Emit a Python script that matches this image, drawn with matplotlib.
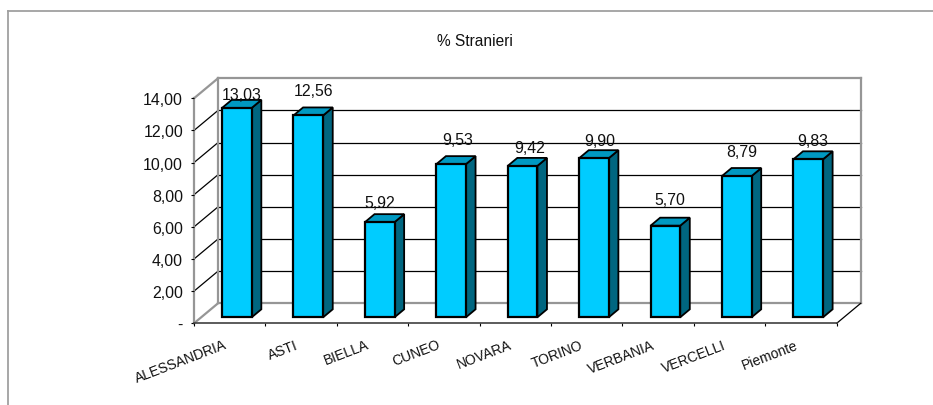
import matplotlib
matplotlib.use("Agg")
import matplotlib.pyplot as plt
from matplotlib.lines import Line2D

plt.rcParams['font.family'] = ['Liberation Sans', 'DejaVu Sans']

categories = ["ALESSANDRIA", "ASTI", "BIELLA", "CUNEO", "NOVARA", "TORINO", "VERBANIA", "VERCELLI", "Piemonte"]
values = [13.03, 12.56, 5.92, 9.53, 9.42, 9.90, 5.70, 8.79, 9.83]
value_labels = ["13,03", "12,56", "5,92", "9,53", "9,42", "9,90", "5,70", "8,79", "9,83"]
y_ticks = [0, 2, 4, 6, 8, 10, 12, 14]
y_labels = ["-", "2,00", "4,00", "6,00", "8,00", "10,00", "12,00", "14,00"]

# where each value label sits relative to its bar top, in pixels
label_shift_x = [0, 0, -4.5, 2, 2.6, 1, 0, 0, 0]
label_shift_y = [5.6, 16.8, 11.5, 16.2, 10.3, 9.5, 18.4, 16.3, 11.3]

W, H = 933, 406
fig = plt.figure(figsize=(W / 100, H / 100), dpi=100)

# front plane of the fake 3d box, in pixels
left, right, top, bottom = 194, 836.7, 99.3, 324.3
ax = fig.add_axes([left / W, 1 - bottom / H, (right - left) / W, (bottom - top) / H])
ax.set_xlim(0, len(categories))
ax.set_ylim(0, 14)
ax.patch.set_visible(False)

# depth of the box in data units
dx = 24 / ((right - left) / len(categories))
dy = 20 / ((bottom - top) / 14)
gray = "#969696"

# outer frame, only top and left are inside the picture
fig.add_artist(Line2D([7.7 / W, 7.7 / W], [0, 1 - 12 / H], transform=fig.transFigure, color="#a0a0a0", lw=1.3))
fig.add_artist(Line2D([7.7 / W, 1], [1 - 12 / H, 1 - 12 / H], transform=fig.transFigure, color="#a0a0a0", lw=1.3))

# walls and gridlines
n = len(categories)
for t in y_ticks:
    col = gray if t in (0, 14) else "black"
    lw = 1.6 if t in (0, 14) else 0.9
    ax.plot([dx, n + dx], [t + dy, t + dy], color=col, lw=lw, clip_on=False, zorder=1)
    ax.plot([0, dx], [t, t + dy], color=col, lw=lw, clip_on=False, zorder=1)
ax.plot([0, 0], [0, 14], color=gray, lw=1.6, clip_on=False, zorder=1)
ax.plot([dx, dx], [dy, 14 + dy], color=gray, lw=1.6, clip_on=False, zorder=1)
ax.plot([n + dx, n + dx], [dy, 14 + dy], color=gray, lw=1.6, clip_on=False, zorder=1)
ax.plot([n, n + dx], [0, dy], color="black", lw=0.9, clip_on=False, zorder=1)
ax.plot([0, n], [0, 0], color="#404040", lw=1.2, clip_on=False, zorder=2)

# bars
bw = 0.415
d0, d1 = 0.3, 0.7
for i, v in enumerate(values):
    x0 = i + 0.5 - bw / 2 + d0 * dx
    x1 = x0 + bw
    y0 = d0 * dy
    ox = (d1 - d0) * dx
    oy = (d1 - d0) * dy
    ax.fill([x1, x1 + ox, x1 + ox, x1], [y0, y0 + oy, y0 + v + oy, y0 + v],
            fc="#006680", ec="black", lw=1.3, clip_on=False, zorder=3)
    ax.fill([x0, x1, x1 + ox, x0 + ox], [y0 + v, y0 + v, y0 + v + oy, y0 + v + oy],
            fc="#0099C2", ec="black", lw=1.3, clip_on=False, zorder=3)
    ax.bar(x0, v, width=bw, bottom=y0, align="edge", fc="#00CCFF", ec="black", lw=1.6,
           clip_on=False, zorder=4)
    ax.annotate(value_labels[i], (x0 + bw / 2 + 0.5 * ox, y0 + v + oy),
                xytext=(label_shift_x[i] * 0.72, label_shift_y[i] * 0.72),
                textcoords="offset points", ha="center", va="center", fontsize=11.4,
                color="#111111", zorder=5, annotation_clip=False)

# axes
for s in ax.spines.values():
    s.set_visible(False)
ax.set_yticks(y_ticks)
ax.set_yticklabels(y_labels, fontsize=11.4, color="#111111")
ax.tick_params(axis="y", length=2.2, width=0.8, pad=5.7)
ax.set_xticks(range(n + 1))
ax.set_xticklabels([])
ax.tick_params(axis="x", which="major", length=2, width=0.8)
ax.set_xticks([i + 0.41 for i in range(n)], minor=True)
ax.set_xticklabels(categories, minor=True, rotation=21, ha="right", va="top", rotation_mode="anchor", fontsize=10,
                   color="#111111")
ax.tick_params(axis="x", which="minor", length=0, pad=10)

fig.text(474.5 / W, 1 - 41.5 / H, "% Stranieri", ha="center", va="center", fontsize=11.2, color="#111111")

fig.savefig("out.png", dpi=100)
